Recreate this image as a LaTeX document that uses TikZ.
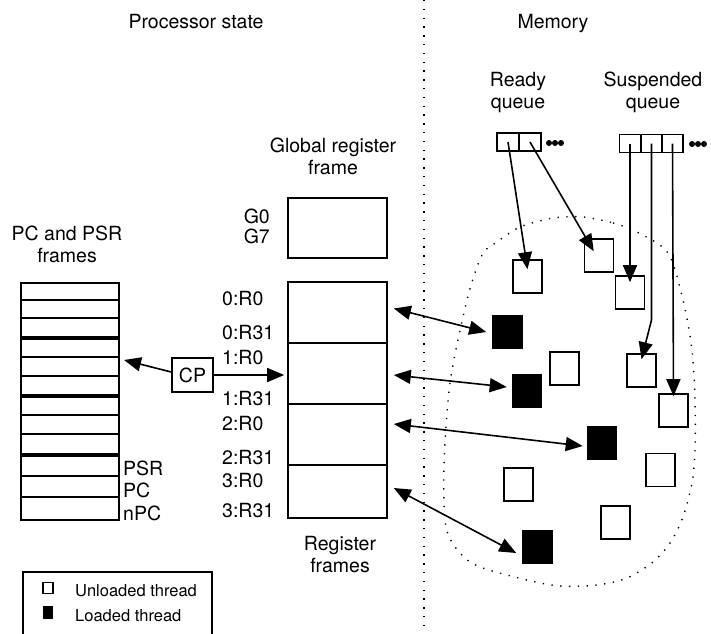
\documentclass[tikz,border=0pt]{standalone}
\usepackage{fontspec}
\setmainfont{TeX Gyre Heros}
\usetikzlibrary{arrows.meta}
\tikzset{
  mythread/.style={draw,line width=1.6pt,fill=white,minimum width=29pt,minimum height=33pt,inner sep=0pt},
  myloaded/.style={mythread,fill=black},
  myframe/.style={draw,line width=1.6pt,minimum width=99pt,inner sep=0pt},
  mycell/.style={draw,line width=1.6pt,minimum height=18pt,inner sep=0pt},
  mydots/.style={line width=1.4pt,dash pattern=on 1.3pt off 7.5pt},
  myarrow/.style={line width=1.6pt,->},
  mylabel/.style={anchor=base,inner sep=0pt}
}

\begin{document}
\begin{tikzpicture}[x=1pt,y=-1pt,>={Triangle[length=17pt,width=14pt]},font=\fontsize{19.5}{22}\selectfont]
    \useasboundingbox (0,0) rectangle (711,633);

    \node[mylabel] (proc) at (196,28) {Processor state};
    \node[mylabel] (mem) at (553,28) {Memory};
    \draw[mydots] (424,0) -- (424,633);

    % PC and PSR frames
    \node[mylabel,align=center] (pclab) at (67,262) {PC and PSR\\frames};
    \node[draw,line width=1.6pt,minimum width=98pt,minimum height=237pt,anchor=north west,inner sep=0pt] (pcf) at (20,282) {};
    \foreach \y in {300,318,357,376,415,434,476,497}
        \draw[line width=1.6pt] (20,\y) -- (118,\y);
    \foreach \y in {338,396,455}
        \draw[line width=3.8pt] (20,\y) -- (118,\y);
    \node[mylabel,anchor=base west] (psr) at (123,475) {PSR};
    \node[mylabel,anchor=base west] (pc) at (123,497) {PC};
    \node[mylabel,anchor=base west] (npc) at (123,520) {nPC};

    % register frames
    \node[mylabel,align=center] (globlab) at (333,174) {Global register\\frame};
    \node[myframe,minimum height=60pt] (glob) at (337.5,228) {};
    \node[myframe,minimum height=61pt] (r0) at (337.5,312.5) {};
    \node[myframe,minimum height=61pt] (r1) at (337.5,373.5) {};
    \node[myframe,minimum height=61pt] (r2) at (337.5,434.5) {};
    \node[myframe,minimum height=53pt] (r3) at (337.5,491.5) {};
    \node[mylabel,anchor=base east] (g0) at (270,223) {G0};
    \node[mylabel,anchor=base east] (g7) at (270,243) {G7};
    \node[mylabel,anchor=base west] at (222,305) {0:R0};
    \node[mylabel,anchor=base west] at (222,339) {0:R31};
    \node[mylabel,anchor=base west] at (222,364) {1:R0};
    \node[mylabel,anchor=base west] at (222,405) {1:R31};
    \node[mylabel,anchor=base west] at (222,430) {2:R0};
    \node[mylabel,anchor=base west] at (222,464) {2:R31};
    \node[mylabel,anchor=base west] at (222,487) {3:R0};
    \node[mylabel,anchor=base west] at (222,517) {3:R31};
    \node[mylabel,align=center] (reglab) at (340,572) {Register\\frames};

    \node[draw,line width=1.6pt,minimum width=41pt,minimum height=34pt,inner sep=0pt] (cp) at (192.5,375) {CP};
    \coordinate (pcin) at (124,360);
    \draw[myarrow] ([yshift=3pt]cp.west) -- (pcin);
    \draw[myarrow,shorten >=3pt] (cp.east) -- (cp.east -| r1.west);

    % queues
    \node[mylabel,align=center] (rqlab) at (518,108) {Ready\\queue};
    \node[mylabel,align=center] (sqlab) at (653,108) {Suspended\\queue};
    \node[mycell,minimum width=22pt] (rq1) at (508,142) {};
    \node[mycell,minimum width=22pt] (rq2) at (530,142) {};
    \node[mycell,minimum width=21pt] (sq1) at (630,143.5) {};
    \node[mycell,minimum width=21pt] (sq2) at (651.5,143.5) {};
    \node[mycell,minimum width=21pt] (sq3) at (672.5,143.5) {};
    \foreach \x in {549,555,561}
        \fill (\x,143) circle (3pt);
    \foreach \x in {692,698,704}
        \fill (\x,144) circle (3pt);

    % threads
    \draw[mydots] plot[smooth cycle] coordinates {(583,217) (613,223) (637,232) (668,253)
        (683,300) (692,350) (695,400) (695,450) (692,483) (683,517) (670,543) (653,562)
        (627,578) (597,585) (560,586) (527,580) (480,567) (460,553) (446,527) (444,467)
        (450,383) (467,300) (482,255) (497,242) (520,227) (553,218)};
    \node[mythread] (u1) at (527.5,276.5) {};
    \node[mythread] (u2) at (599,255.5) {};
    \node[mythread] (u3) at (630,292.5) {};
    \node[mythread] (u4) at (564.5,368.5) {};
    \node[mythread] (u5) at (641.5,370.5) {};
    \node[mythread] (u6) at (673.5,410.5) {};
    \node[mythread] (u7) at (660.5,470) {};
    \node[mythread] (u8) at (518.5,484.5) {};
    \node[mythread] (u9) at (615.5,522.5) {};
    \node[myloaded] (l1) at (507.5,332) {};
    \node[myloaded] (l2) at (527,391) {};
    \node[myloaded] (l3) at (602,443) {};
    \node[myloaded] (l4) at (537.5,547) {};

    \draw[myarrow] (rq1.center) -- ([yshift=-10pt]u1.north);
    \draw[myarrow] (rq2.center) -- ([xshift=10pt,yshift=-13pt]u2.north west);
    \draw[myarrow] (sq1.center) -- ([yshift=-7pt]u3.north);
    \coordinate (bend) at (651.5,320);
    \draw[myarrow] (sq2.center) -- (bend) -- ([yshift=-6pt]u5.north);
    \draw[myarrow] (sq3.center) -- ([yshift=-3pt]u6.north);

    \draw[myarrow,<->] ([xshift=6pt,yshift=4pt]r0.east) -- ([xshift=-6pt]l1.west);
    \draw[myarrow,<->] ([xshift=6pt,yshift=-1.5pt]r1.east) -- ([xshift=-5pt,yshift=4pt]l2.west);
    \draw[myarrow,<->] ([xshift=6pt,yshift=10.5pt]r2.east) -- ([xshift=-4pt,yshift=-3pt]l3.west);
    \draw[myarrow,<->] ([xshift=6pt,yshift=3.5pt]r3.east) -- ([xshift=-6pt,yshift=-6pt]l4.west);

    % legend
    \draw[line width=1.6pt] (23,640) -- (23,572) -- (212,572) -- (212,640);
    \node[draw,line width=1.4pt,minimum width=10pt,minimum height=11pt,inner sep=0pt] (keyu) at (48,588) {};
    \node[fill=black,minimum width=10pt,minimum height=13pt,inner sep=0pt] (keyl) at (48,612) {};
    \node[mylabel,anchor=base west,font=\fontsize{16.5}{19}\selectfont] at (75,596) {Unloaded thread};
    \node[mylabel,anchor=base west,font=\fontsize{16.5}{19}\selectfont] at (75,621) {Loaded thread};
\end{tikzpicture}
\end{document}
